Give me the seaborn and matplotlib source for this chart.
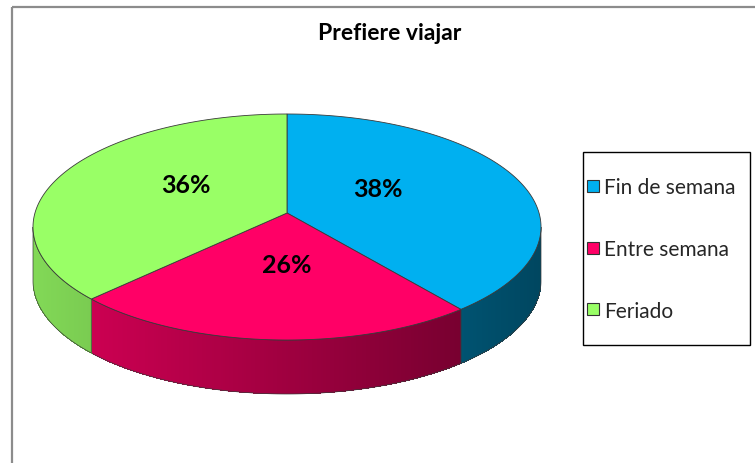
import numpy as np
import matplotlib
matplotlib.use("Agg")
import matplotlib.pyplot as plt
import seaborn as sns
from matplotlib.patches import Polygon, Rectangle
from matplotlib.lines import Line2D

labels = ["Fin de semana", "Entre semana", "Feriado"]
values = [38, 26, 36]
pct_labels = ["38%", "26%", "36%"]
colors = ["#00B0F0", "#FF0066", "#99FF66"]
title = "Prefiere viajar"

sns.set_theme(style="white")
plt.rcParams["font.family"] = ["Lato", "DejaVu Sans"]

W, H = 755, 464
fig = plt.figure(figsize=(W / 100, H / 100), dpi=100)
ax = fig.add_axes([0, 0, 1, 1])
ax.set_xlim(0, W)
ax.set_ylim(H, 0)
ax.axis("off")

# ellipse geometry (pixel space)
cx, cy = 287, 228
a, b = 254, 113
depth = 54
hub_y = 214  # perspective: where the seams meet


def pt(theta, dy=0.0):
    t = np.radians(theta)
    return cx + a * np.cos(t), cy - b * np.sin(t) + dy


def shade(rgb, theta):
    f = 0.625 - 0.225 * np.cos(np.radians(theta))
    return tuple(np.clip(np.array(rgb) * f, 0, 1))


# sector angles from data, clockwise from top
fracs = np.array(values) / sum(values)
starts = 90 - 360 * np.concatenate([[0], np.cumsum(fracs)[:-1]])
ends = starts - 360 * fracs

# side walls (front half only: theta in [-180, 0])
for s, e, col in zip(starts, ends, colors):
    rgb = matplotlib.colors.to_rgb(col)
    for ss, ee in [(s, e), (s - 360, e - 360)]:
        l, h = max(min(ss, ee), -180), min(max(ss, ee), 0)
        if h <= l:
            continue
        th = np.linspace(l, h, int((h - l) * 2) + 2)
        for t0, t1 in zip(th[:-1], th[1:]):
            t1x = min(t1 + 0.4, h)
            ax.add_patch(Polygon([pt(t0), pt(t1x), pt(t1x, depth), pt(t0, depth)],
                                 closed=True, lw=0, antialiased=False,
                                 facecolor=shade(rgb, (t0 + t1) / 2)))
        top = [pt(t) for t in th]
        bot = [pt(t, depth) for t in th[::-1]]
        ax.add_patch(Polygon(top + bot, closed=True, fill=False,
                             edgecolor="#3a3a3a", lw=0.5))

# top face sectors
for s, e, col in zip(starts, ends, colors):
    th = np.linspace(s, e, 200)
    verts = [(cx, hub_y)] + [pt(t) for t in th]
    ax.add_patch(Polygon(verts, closed=True, facecolor=col,
                         edgecolor="#3a3a3a", lw=0.6))

# percentage labels
label_pos = [(378, 190), (287, 266), (186, 186)]
for txt, (x, y) in zip(pct_labels, label_pos):
    ax.text(x, y, txt, ha="center", va="center", fontsize=18,
            fontweight="bold", color="black")

ax.text(390, 34, title, ha="center", va="center", fontsize=16.5,
        fontweight="bold", color="black")

# outer chart border
ax.add_patch(Rectangle((12, 8), W, H, fill=False, edgecolor="#8c8c8c", lw=1.6))

# legend box
ax.add_patch(Rectangle((583, 153), 167, 193, fill=False, edgecolor="black", lw=1.0))
handles = [Line2D([], [], ls="", marker="s", markersize=9,
                  markerfacecolor=c, markeredgecolor="#333333",
                  markeredgewidth=0.8) for c in colors]
leg = fig.legend(handles, labels, loc="center left",
                 bbox_to_anchor=(586 / W, 1 - 250 / H), fontsize=15,
                 frameon=False, handlelength=0.65, handletextpad=0.2,
                 labelspacing=2.0, borderpad=0, borderaxespad=0)

fig.savefig("out.png", dpi=100)
